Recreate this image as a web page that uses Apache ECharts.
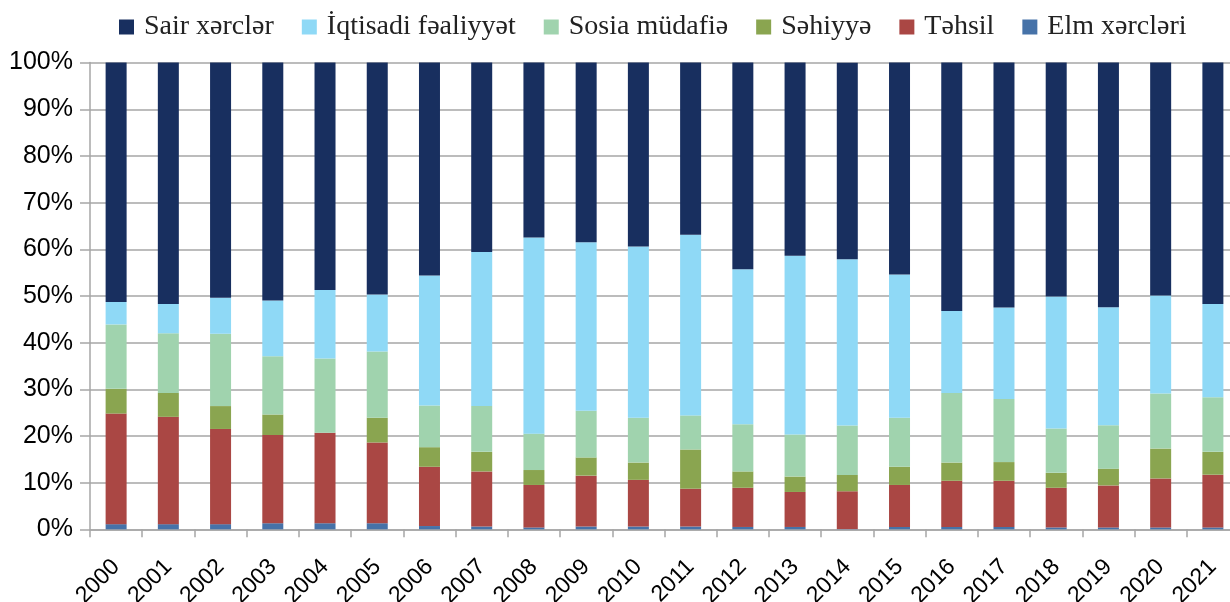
<!DOCTYPE html>
<html>
<head>
<meta charset="utf-8">
<script src="https://cdn.jsdelivr.net/npm/echarts@6/dist/echarts.min.js"></script>
<style>
  html, body { margin: 0; padding: 0; background: #fff; }
  #chart { width: 1230px; height: 602px; }
</style>
</head>
<body>
<div id="chart"></div>
<script>
// illər
var years = ['2000', '2001', '2002', '2003', '2004', '2005', '2006', '2007', '2008', '2009', '2010',
  '2011', '2012', '2013', '2014', '2015', '2016', '2017', '2018', '2019', '2020', '2021'];

// xərclərin payı, % (aşağıdan yuxarı)
var elm = [1.1, 1.1, 1.1, 1.3, 1.3, 1.3, 0.7, 0.6, 0.4, 0.6, 0.6, 0.6, 0.5, 0.5, 0.05, 0.5, 0.5, 0.5, 0.4, 0.4, 0.4, 0.4];
var tehsil = [23.7, 23.0, 20.4, 18.9, 19.4, 17.3, 12.7, 11.8, 9.1, 10.9, 10.0, 8.1, 8.4, 7.5, 8.1, 9.0, 9.9, 9.9, 8.5, 9.0, 10.5, 11.3];
var sehiyye = [5.3, 5.1, 4.9, 4.4, 0, 5.3, 4.2, 4.2, 3.2, 3.9, 3.7, 8.4, 3.5, 3.3, 3.5, 3.9, 3.9, 4.0, 3.2, 3.6, 6.4, 4.9];
var sosia = [13.8, 12.8, 15.5, 12.5, 15.9, 14.2, 8.9, 9.8, 7.8, 10.0, 9.6, 7.3, 10.1, 9.0, 10.6, 10.5, 14.9, 13.5, 9.5, 9.3, 11.8, 11.7];
var iqtisadi = [4.8, 6.3, 7.7, 11.9, 14.7, 12.2, 27.9, 33.0, 42.0, 36.1, 36.7, 38.7, 33.2, 38.3, 35.6, 30.7, 17.6, 19.6, 28.3, 25.3, 21.0, 20.0];
var sair = [51.3, 51.7, 50.4, 51.0, 48.7, 49.7, 45.6, 40.6, 37.5, 38.5, 39.4, 36.9, 44.3, 41.4, 42.1, 45.4, 53.2, 52.5, 50.1, 52.4, 49.9, 51.7];

var myChart = echarts.init(document.getElementById('chart'));

function bar(name, data, color) {
  return {
    name: name,
    type: 'bar',
    stack: 'total',
    barWidth: 21,
    data: data,
    itemStyle: { color: color },
    emphasis: { disabled: true }
  };
}

var option = {
  animation: false,
  legend: {
    data: ['Sair xərclər', 'İqtisadi fəaliyyət', 'Sosia müdafiə', 'Səhiyyə', 'Təhsil', 'Elm xərcləri'],
    left: 114,
    top: 8,
    itemWidth: 15,
    itemHeight: 15,
    itemGap: 28,
    icon: 'rect',
    textStyle: {
      fontFamily: 'Liberation Serif',
      fontSize: 28,
      color: '#222',
      padding: [0, 0, 0, 5]
    }
  },
  grid: {
    left: 90,
    right: -9,
    top: 62.6,
    bottom: 72.7,
    containLabel: false,
    outerBoundsMode: 'none'
  },
  xAxis: {
    type: 'category',
    data: years,
    axisLine: { lineStyle: { color: '#a6a6a6', width: 1.5 } },
    axisTick: { show: true, length: 8, lineStyle: { color: '#a6a6a6', width: 1.5 } },
    axisLabel: {
      rotate: 45,
      margin: 34,
      fontFamily: 'Liberation Sans',
      fontSize: 23,
      color: '#000'
    }
  },
  yAxis: {
    type: 'value',
    min: 0,
    max: 100,
    interval: 10,
    axisLine: { show: true, lineStyle: { color: '#a6a6a6', width: 1.5 } },
    axisTick: { show: true, length: 10, lineStyle: { color: '#a6a6a6', width: 1.5 } },
    splitLine: { lineStyle: { color: '#a6a6a6', width: 1.5 } },
    axisLabel: {
      formatter: '{value}%',
      margin: 17,
      fontFamily: 'Liberation Sans',
      fontSize: 25,
      color: '#000'
    }
  },
  series: [
    bar('Elm xərcləri', elm, '#4672A8'),
    bar('Təhsil', tehsil, '#AA4744'),
    bar('Səhiyyə', sehiyye, '#8AA550'),
    bar('Sosia müdafiə', sosia, '#A0D3AE'),
    bar('İqtisadi fəaliyyət', iqtisadi, '#8FD9F6'),
    bar('Sair xərclər', sair, '#182F5F')
  ]
};

myChart.setOption(option);
</script>
</body>
</html>
